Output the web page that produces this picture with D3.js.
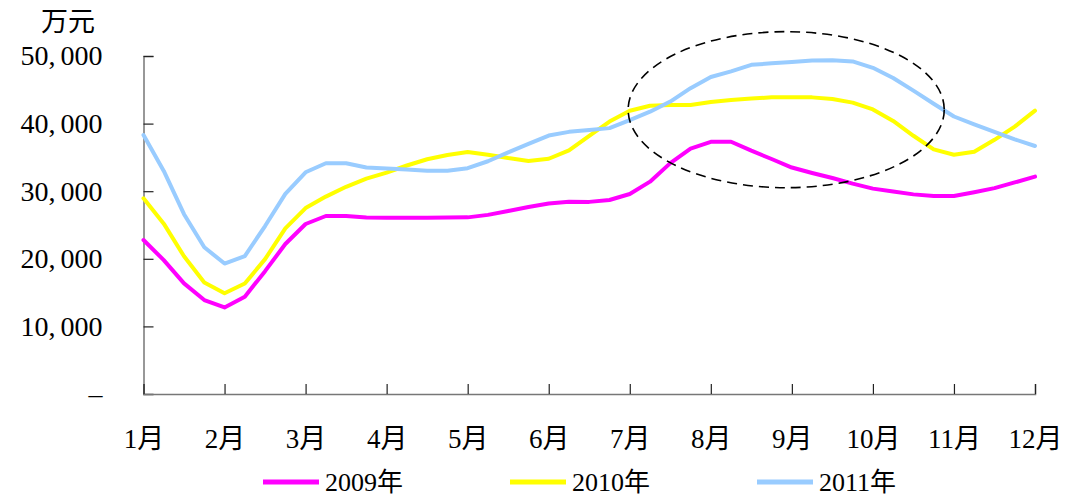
<!DOCTYPE html>
<html>
<head>
<meta charset="utf-8">
<script src="https://cdn.jsdelivr.net/npm/d3@7"></script>
<style>
  body { margin: 0; background: #fff; }
  svg { display: block; }
  text { font-family: "Liberation Serif", "Noto Sans CJK SC", serif; fill: #000; }
</style>
</head>
<body>
<div id="chart"></div>
<script>
// month ticks and labels
const months = [1, 2, 3, 4, 5, 6, 7, 8, 9, 10, 11, 12];
const monthLabels = ["1月", "2月", "3月", "4月", "5月", "6月", "7月", "8月", "9月", "10月", "11月", "12月"];
const yTicks = [0, 10000, 20000, 30000, 40000, 50000];

// readings every quarter month, 1月 .. 12月
const steps = d3.range(45).map((i) => 1 + i / 4);

const sales2009 = [22780, 19800, 16360, 13900, 12800, 14400, 18170, 22190, 25150, 26330, 26330, 26100,
  26080, 26080, 26080, 26100, 26130, 26500, 27070, 27670, 28180, 28450, 28420, 28700,
  29580, 31410, 34150, 36300, 37300, 37320, 36000, 34760, 33500, 32700, 31950, 31120,
  30380, 29950, 29530, 29290, 29290, 29850, 30460, 31300, 32150];
const sales2010 = [28950, 25200, 20370, 16500, 14900, 16350, 19950, 24500, 27500, 29200, 30650, 31850,
  32750, 33800, 34730, 35360, 35800, 35400, 34900, 34470, 34800, 36050, 38200, 40300,
  41900, 42650, 42750, 42760, 43190, 43480, 43700, 43880, 43900, 43880, 43650, 43100,
  42100, 40400, 38200, 36180, 35400, 35850, 37600, 39550, 41910];
const sales2011 = [38300, 33000, 26600, 21700, 19300, 20400, 24850, 29600, 32800, 34130, 34130, 33500,
  33350, 33200, 33030, 33030, 33400, 34430, 35750, 37000, 38230, 38780, 39040, 39330,
  40520, 41760, 43260, 45240, 46900, 47730, 48690, 48920, 49100, 49340, 49380, 49200,
  48250, 46750, 44870, 42930, 41050, 39880, 38760, 37670, 36690];

const seriesNames = ["2009年", "2010年", "2011年"];
const seriesColors = ["#ff00ff", "#ffff00", "#99ccff"];
const seriesValues = [sales2009, sales2010, sales2011];

// dashed ellipse around the autumn peak (centre month, centre value, half widths)
const ellipse = { month: 8.93, value: 42060, rMonths: 1.95, rValue: 11540 };

const svgWidth = 1067;
const svgHeight = 497;
const plot = { left: 143.5, right: 1035, top: 56, bottom: 394 };

const xScale = d3.scaleLinear().domain([1, 12]).range([plot.left, plot.right]);
const yScale = d3.scaleLinear().domain([0, 50000]).range([plot.bottom, plot.top]);

const svg = d3.select("#chart")
  .append("svg")
  .attr("width", svgWidth)
  .attr("height", svgHeight);

// unit label
svg.append("text")
  .attr("x", 68)
  .attr("y", 31)
  .attr("text-anchor", "middle")
  .style("font-size", "27px")
  .text("万元");

// y axis
const yAxis = d3.axisLeft(yScale)
  .tickValues(yTicks)
  .tickSize(-10)
  .tickPadding(41)
  .tickFormat((d) => (d === 0 ? "–" : d3.format(",")(d)));

const gy = svg.append("g")
  .attr("id", "y-axis")
  .attr("transform", `translate(${plot.left},0)`)
  .call(yAxis);

gy.selectAll("text")
  .style("font-size", "28px")
  .style("font-family", '"Liberation Serif", serif')
  .each(function (d) {
    if (d === 0) return;
    const t = d3.select(this);
    const parts = d3.format(",")(d).split(",");
    t.text(null);
    t.append("tspan").text(parts[0] + ",");
    t.append("tspan").attr("dx", 5).text(parts[1]);
  });

// x axis
const xAxis = d3.axisBottom(xScale)
  .tickValues(months)
  .tickSize(-10)
  .tickPadding(35)
  .tickFormat((d, i) => monthLabels[i]);

const gx = svg.append("g")
  .attr("id", "x-axis")
  .attr("transform", `translate(0,${plot.bottom})`)
  .call(xAxis);

gx.selectAll("text").style("font-size", "27px");

svg.selectAll(".domain").attr("stroke", "#777").attr("stroke-width", 1.5);
svg.selectAll(".tick line").attr("stroke", "#222").attr("stroke-width", 1.2);

// series lines
const line = d3.line()
  .x((d, i) => xScale(steps[i]))
  .y((d) => yScale(d));

svg.append("g")
  .attr("id", "lines")
  .selectAll("path")
  .data(seriesValues)
  .enter()
  .append("path")
  .attr("d", (d) => line(d))
  .attr("fill", "none")
  .attr("stroke", (d, i) => seriesColors[i])
  .attr("stroke-width", 4)
  .attr("stroke-linejoin", "round")
  .attr("stroke-linecap", "round");

// dashed ellipse
const ecx = xScale(ellipse.month);
const ecy = yScale(ellipse.value);
svg.append("ellipse")
  .attr("cx", ecx)
  .attr("cy", ecy)
  .attr("rx", xScale(ellipse.month + ellipse.rMonths) - ecx)
  .attr("ry", ecy - yScale(ellipse.value + ellipse.rValue))
  .attr("fill", "none")
  .attr("stroke", "#000")
  .attr("stroke-width", 1.6)
  .attr("stroke-dasharray", "10,6");

// legend
const legend = svg.append("g")
  .attr("id", "legend")
  .selectAll("g")
  .data(seriesNames)
  .enter()
  .append("g")
  .attr("transform", (d, i) => `translate(${263 + i * 247},482)`);

legend.append("line")
  .attr("x1", 0)
  .attr("x2", 56)
  .attr("stroke", (d, i) => seriesColors[i])
  .attr("stroke-width", 5);

legend.append("text")
  .attr("x", 62)
  .attr("y", 9)
  .style("font-size", "26px")
  .text((d) => d);
</script>
</body>
</html>
